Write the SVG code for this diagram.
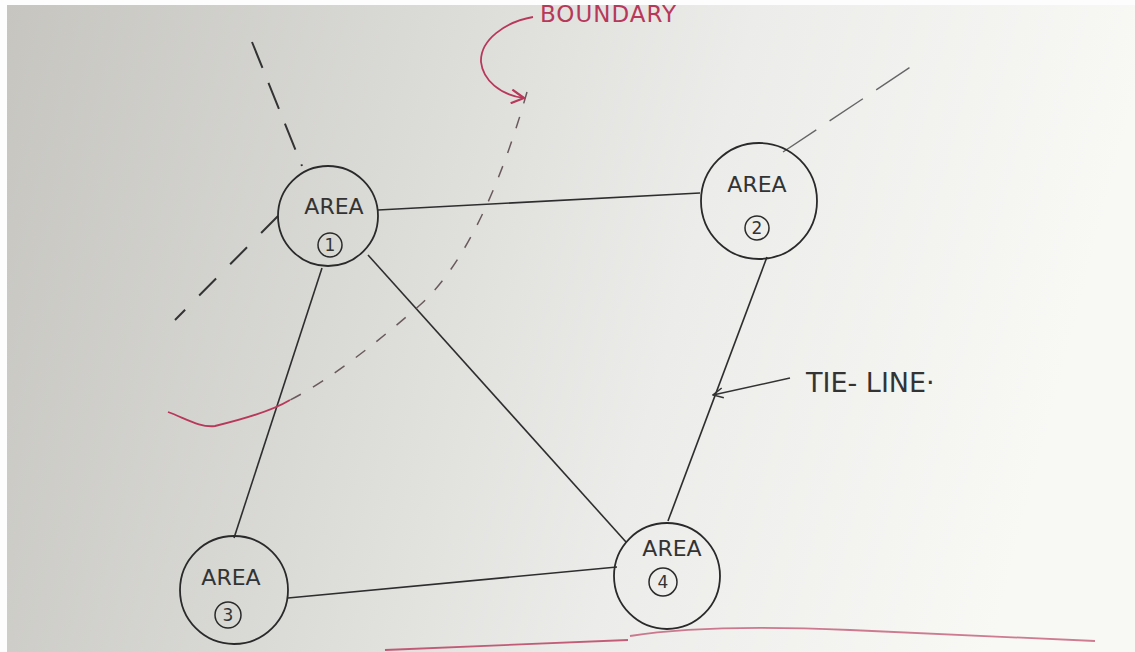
<svg xmlns="http://www.w3.org/2000/svg" width="1135" height="652" viewBox="0 0 1135 652">
<defs>
<linearGradient id="bg" x1="0" y1="0" x2="1" y2="0.15">
<stop offset="0" stop-color="#c6c5c0"/>
<stop offset="0.35" stop-color="#d9d9d5"/>
<stop offset="0.65" stop-color="#ececea"/>
<stop offset="1" stop-color="#f8f8f5"/>
</linearGradient>
<marker id="ah" viewBox="0 0 12 12" refX="11" refY="6" markerWidth="12" markerHeight="12" markerUnits="userSpaceOnUse" orient="auto">
<path d="M1,1 L11,6 L1,11" fill="none" stroke="#333" stroke-width="1.5"/>
</marker>
<marker id="ahr" viewBox="0 0 14 14" refX="12" refY="7" markerWidth="16" markerHeight="16" markerUnits="userSpaceOnUse" orient="auto">
<path d="M1,1 L12,7 L1,13" fill="none" stroke="#b8385a" stroke-width="2"/>
</marker>
</defs>
<style>
.ring{fill:none;stroke:#2a2a2a;stroke-width:1.8}
.num{fill:none;stroke:#2a2a2a;stroke-width:1.5}
.lbl{font-family:"DejaVu Sans",sans-serif;font-size:22px;fill:#333;text-anchor:middle}
.n{font-family:"DejaVu Sans",sans-serif;font-size:17px;fill:#333;text-anchor:middle}
.edge{fill:none;stroke:#2e2e2e;stroke-width:1.6}
.dash{fill:none;stroke:#333;stroke-width:2}
.dash2{fill:none;stroke:#666;stroke-width:1.4;stroke-dasharray:40 16}
.red{fill:none;stroke:#b8385a;stroke-width:1.8}
</style>
<rect width="1135" height="652" fill="#fdfdfd"/>
<rect x="7" y="5" width="1128" height="647" fill="url(#bg)"/>

<g id="connectors">
<line class="edge" x1="378" y1="210" x2="700" y2="193"/>
<line class="edge" x1="322" y1="268" x2="234" y2="538"/>
<line class="edge" x1="368" y1="255" x2="626" y2="542"/>
<line class="edge" x1="767" y1="257" x2="668" y2="521"/>
<line class="edge" x1="288" y1="598" x2="617" y2="567"/>
<line class="dash" x1="252" y1="42" x2="302" y2="166" stroke-dasharray="28 16"/>
<line class="dash" x1="278" y1="216" x2="175" y2="320" stroke-dasharray="24 20"/>
<line class="dash2" x1="783" y1="152" x2="918" y2="62"/>
</g>

<g id="boundary">
<path d="M527,92 C505,170 470,260 420,305 C380,340 330,380 290,400" fill="none" stroke="#6a5a5e" stroke-width="1.5" stroke-dasharray="12 14"/>
<path class="red" d="M290,400 C270,412 240,420 215,426 C200,428 185,418 168,412"/>
<path d="M533,17 C505,22 480,40 481,62 C483,80 500,95 524,98" fill="none" stroke="#b8385a" stroke-width="1.8" marker-end="url(#ahr)"/>
<text x="540" y="22" font-family="DejaVu Sans,sans-serif" font-size="23" fill="#b8385a" letter-spacing="1">BOUNDARY</text>
<path class="red" d="M385,650 L628,640" stroke-opacity="0.8"/>
<path class="red" d="M630,636 C680,628 760,626 850,630 C950,634 1030,638 1095,641" stroke-opacity="0.65"/>
</g>

<g id="tie-line">
<line x1="790" y1="378" x2="713" y2="395" stroke="#333" stroke-width="1.5" marker-end="url(#ah)"/>
<text x="806" y="392" font-family="DejaVu Sans,sans-serif" font-size="27" fill="#333">TIE- LINE·</text>
</g>

<g id="area1">
<circle class="ring" cx="328" cy="216" r="50"/>
<text class="lbl" x="334" y="214">AREA</text>
<circle class="num" cx="330" cy="245" r="12"/>
<text class="n" x="330" y="251">1</text>
</g>

<g id="area2">
<circle class="ring" cx="759" cy="201" r="58"/>
<text class="lbl" x="757" y="192">AREA</text>
<circle class="num" cx="757" cy="228" r="12"/>
<text class="n" x="757" y="234">2</text>
</g>

<g id="area3">
<circle class="ring" cx="234" cy="590" r="54"/>
<text class="lbl" x="231" y="585">AREA</text>
<circle class="num" cx="228" cy="615" r="13"/>
<text class="n" x="228" y="621">3</text>
</g>

<g id="area4">
<circle class="ring" cx="667" cy="576" r="53"/>
<text class="lbl" x="672" y="556">AREA</text>
<circle class="num" cx="663" cy="582" r="14"/>
<text class="n" x="663" y="588">4</text>
</g>
</svg>
